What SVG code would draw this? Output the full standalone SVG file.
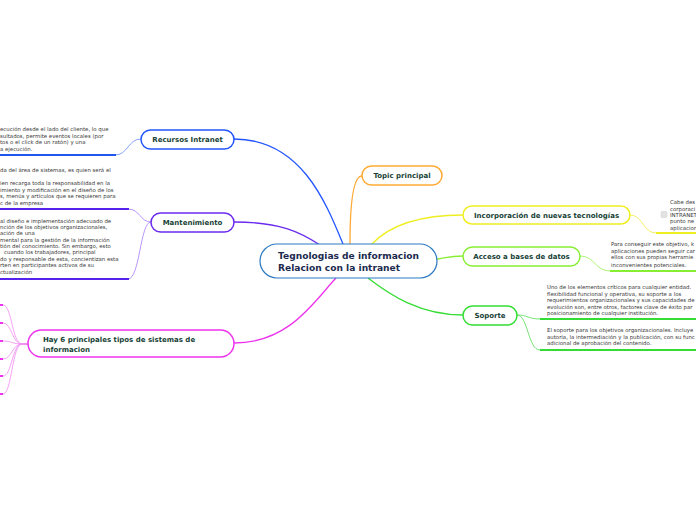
<svg xmlns="http://www.w3.org/2000/svg" width="696" height="520" viewBox="0 0 696 520">
<style>
.n{fill:#fff;stroke-width:1.5}
.lbl{font-family:"DejaVu Sans",Verdana,sans-serif;font-weight:bold;font-size:7px;fill:#173f36}
.ctr{font-family:"DejaVu Sans",Verdana,sans-serif;font-weight:bold;font-size:9.1px;fill:#1b2a4e}
.t{font-family:"DejaVu Sans",Verdana,sans-serif;font-size:5.4px;fill:#383838}
.c{fill:none;stroke-width:1.3}
.u{fill:none;stroke-width:2}
.s{fill:none;stroke-width:0.8}
</style>
<rect width="696" height="520" fill="#fff"/>
<g id="connectors">
<path class="c" stroke="#2255ff" d="M234 139 C300 139 325 200 343 244"/>
<path class="c" stroke="#6a2bef" d="M234 222 C280 222 300 232 320 245"/>
<path class="c" stroke="#ee33ee" d="M234 343 C290 343 315 300 336 278"/>
<path class="c" stroke="#ffaa33" d="M362 176 C352 176 350 210 350 244"/>
<path class="c" stroke="#eeee22" d="M463 215 C420 215 390 225 372 244"/>
<path class="c" stroke="#88ee33" d="M463 256 C450 256 445 258 437 259"/>
<path class="c" stroke="#33dd33" d="M463 315 C420 315 390 295 368 278"/>
<path class="s" stroke="#6a8cff" d="M141 139 C128 139 128 155 115 155"/>
<path class="u" stroke="#2255ee" d="M116 155 L0 155"/>
<path class="s" stroke="#a47cff" d="M151 222 C140 222 140 209 128 209"/>
<path class="u" stroke="#5522ee" d="M129 209 L0 209"/>
<path class="s" stroke="#a47cff" d="M151 222 C140 222 140 279 128 279"/>
<path class="u" stroke="#5522ee" d="M129 279 L0 279"/>
<g stroke="#f38cf3" class="s">
<path d="M28 344 L22 344 C12 344 12 305 3 305"/>
<path d="M28 344 L22 344 C12 344 12 323 3 323"/>
<path d="M28 344 L22 344 C12 344 12 341 3 341"/>
<path d="M28 344 L22 344 C12 344 12 359 3 359"/>
<path d="M28 344 L22 344 C12 344 12 376 3 376"/>
<path d="M28 344 L22 344 C12 344 12 394 3 394"/>
</g>
<g stroke="#ee33ee" stroke-width="2">
<path d="M0 305 H3 M0 323 H3 M0 341 H3 M0 359 H3 M0 376 H3 M0 394 H3"/>
</g>
<path class="s" stroke="#eeee44" d="M630 215 C643 215 643 233 656 233"/>
<path class="u" stroke="#eeee22" d="M656 233 L696 233"/>
<path class="s" stroke="#99ee55" d="M580 256 C595 256 595 271 610 271"/>
<path class="u" stroke="#88ee33" d="M610 271 L696 271"/>
<path class="s" stroke="#55dd55" d="M517 315 C528 315 528 319 540 319"/>
<path class="u" stroke="#33dd33" d="M540 319 L696 319"/>
<path class="s" stroke="#55dd55" d="M517 315 C528 315 528 350 540 350"/>
<path class="u" stroke="#33dd33" d="M540 350 L696 350"/>
</g>
<g id="center">
<rect x="260" y="244" width="177" height="34" rx="17" fill="#fff" stroke="#2a78c2" stroke-width="1.2"/>
<text class="ctr" x="278" y="259">Tegnologias de informacion</text>
<text class="ctr" x="278" y="271">Relacion con la intranet</text>
</g>
<g id="recursos">
<rect class="n" x="141" y="130" width="93" height="19" rx="9.5" stroke="#2255ff"/>
<text class="lbl" x="187.5" y="142" text-anchor="middle">Recursos Intranet</text>
</g>
<g id="recursos-text">
<text class="t" x="0" y="131">ecución desde el lado del cliente, lo que</text>
<text class="t" x="0" y="137.5">sultados, permite eventos locales (por</text>
<text class="t" x="0" y="144">tos o el click de un ratón) y una</text>
<text class="t" x="0" y="150.5">a ejecución.</text>
</g>
<g id="mantenimiento">
<rect class="n" x="151" y="213" width="83" height="19" rx="9.5" stroke="#6a2bef"/>
<text class="lbl" x="192.5" y="225" text-anchor="middle">Mantenimiento</text>
</g>
<g id="mant-text-1">
<text class="t" x="0" y="172">da del área de sistemas, es quien será el</text>
<text class="t" x="0" y="185">ien recarga toda la responsabilidad en la</text>
<text class="t" x="0" y="191.5">imiento y modificación en el diseño de los</text>
<text class="t" x="0" y="198">s, menús y artículos que se requieren para</text>
<text class="t" x="0" y="204.5">c de la empresa</text>
</g>
<g id="mant-text-2">
<text class="t" x="0" y="222.5">al diseño e implementación adecuado de</text>
<text class="t" x="0" y="229">nción de los objetivos organizacionales,</text>
<text class="t" x="0" y="235">ación de una</text>
<text class="t" x="0" y="242">mental para la gestión de la información</text>
<text class="t" x="0" y="248">tión del conocimiento. Sin embargo, esto</text>
<text class="t" x="4" y="254">cuando los trabajadores, principal</text>
<text class="t" x="0" y="261">do y responsable de esta, concientizan esta</text>
<text class="t" x="0" y="267">rten en participantes activos de su</text>
<text class="t" x="0" y="274">ctualización</text>
</g>
<g id="hay6">
<rect class="n" x="28" y="330" width="206" height="27" rx="13.5" stroke="#ee33ee"/>
<text class="lbl" x="43" y="342">Hay 6 principales tipos de sistemas de</text>
<text class="lbl" x="43" y="351.5">informacion</text>
</g>
<g id="topic">
<rect class="n" x="362" y="166" width="80" height="19" rx="9.5" stroke="#ffaa33"/>
<text class="lbl" x="402" y="178" text-anchor="middle">Topic principal</text>
</g>
<g id="incorporacion">
<rect class="n" x="463" y="206" width="167" height="18" rx="9" stroke="#eeee22"/>
<text class="lbl" x="546.5" y="217.5" text-anchor="middle">Incorporación de nuevas tecnologías</text>
</g>
<g id="incorp-text">
<rect x="661" y="211.5" width="6" height="6" rx="1" fill="#e2e2e2" stroke="#cfcfcf" stroke-width="0.5"/>
<text class="t" x="670" y="204">Cabe des</text>
<text class="t" x="670" y="210.5">corporaci</text>
<text class="t" x="670" y="216.5">INTRANET</text>
<text class="t" x="670" y="223">punto ne</text>
<text class="t" x="670" y="229.5">aplicacion</text>
</g>
<g id="acceso">
<rect class="n" x="463" y="247" width="117" height="19" rx="9.5" stroke="#88ee33"/>
<text class="lbl" x="521.5" y="259" text-anchor="middle">Acceso a bases de datos</text>
</g>
<g id="acceso-text">
<text class="t" x="611" y="246">Para conseguir este objetivo, k</text>
<text class="t" x="611" y="252.5">aplicaciones pueden seguir car</text>
<text class="t" x="611" y="258.5">ellos con sus propias herramie</text>
<text class="t" x="611" y="267">inconvenientes potenciales.</text>
</g>
<g id="soporte">
<rect class="n" x="463" y="306" width="54" height="19" rx="9.5" stroke="#33dd33"/>
<text class="lbl" x="490" y="318" text-anchor="middle">Soporte</text>
</g>
<g id="soporte-text-1">
<text class="t" x="547" y="289">Uno de los elementos críticos para cualquier entidad.</text>
<text class="t" x="547" y="295.5">flexibilidad funcional y operativa, su soporte a los</text>
<text class="t" x="547" y="302">requerimientos organizacionales y sus capacidades de</text>
<text class="t" x="547" y="308.5">evolución son, entre otros, factores clave de éxito par</text>
<text class="t" x="547" y="315">posicionamiento de cualquier institución.</text>
</g>
<g id="soporte-text-2">
<text class="t" x="547" y="332">El soporte para los objetivos organizacionales. Incluye</text>
<text class="t" x="547" y="338.5">autoría, la intermediación y la publicación, con su func</text>
<text class="t" x="547" y="345">adicional de aprobación del contenido.</text>
</g>
</svg>
